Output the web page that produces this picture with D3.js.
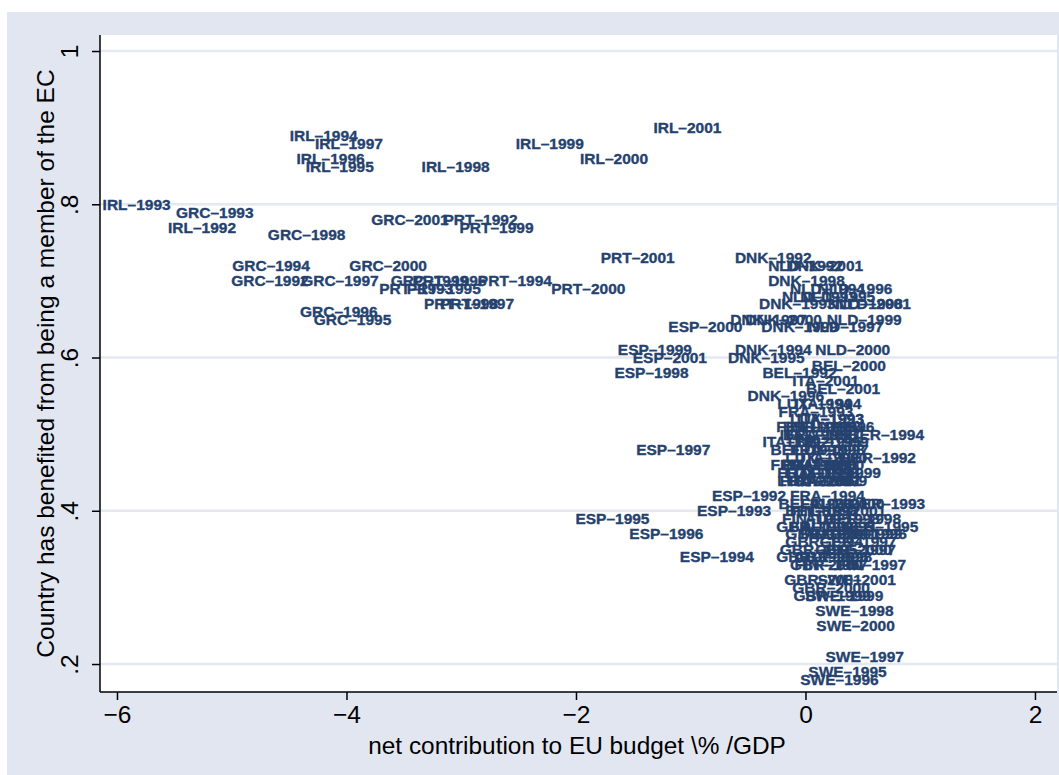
<!DOCTYPE html>
<html>
<head>
<meta charset="utf-8">
<script src="https://cdn.jsdelivr.net/npm/d3@7"></script>
<style>
  html, body { margin: 0; padding: 0; background: #ffffff; }
  svg { display: block; }
</style>
</head>
<body>
<svg id="chart" width="1059" height="775"></svg>
<script>
// Net contribution to the EU budget (% of GDP) against the share of
// respondents who say their country has benefited from membership.
// Each row: [year, net contribution, share benefited]
const IRL = [[1992,-5.59,0.77],[1993,-6.16,0.80],[1994,-4.53,0.89],[1995,-4.39,0.85],[1996,-4.47,0.86],
             [1997,-4.31,0.88],[1998,-3.38,0.85],[1999,-2.56,0.88],[2000,-2.00,0.86],[2001,-1.36,0.90]];
const GRC = [[1992,-5.04,0.70],[1993,-5.52,0.79],[1994,-5.03,0.72],[1995,-4.32,0.65],[1996,-4.44,0.66],
             [1997,-4.43,0.70],[1998,-4.72,0.76],[1999,-3.65,0.70],[2000,-4.01,0.72],[2001,-3.82,0.78]];
const PRT = [[1992,-3.19,0.78],[1993,-3.75,0.69],[1994,-2.89,0.70],[1995,-3.51,0.69],[1996,-3.46,0.70],
             [1997,-3.22,0.67],[1998,-3.36,0.67],[1999,-3.05,0.77],[2000,-2.25,0.69],[2001,-1.82,0.73]];
const ESP = [[1992,-0.85,0.42],[1993,-0.98,0.40],[1994,-1.13,0.34],[1995,-2.04,0.39],[1996,-1.57,0.37],
             [1997,-1.51,0.48],[1998,-1.70,0.58],[1999,-1.67,0.61],[2000,-1.23,0.64],[2001,-1.54,0.60]];
const DNK = [[1992,-0.65,0.73],[1993,-0.44,0.67],[1994,-0.65,0.61],[1995,-0.71,0.60],[1996,-0.54,0.55],
             [1997,-0.69,0.65],[1998,-0.36,0.70],[1999,-0.42,0.64],[2000,-0.56,0.65],[2001,-0.20,0.72]];
const NLD = [[1992,-0.36,0.72],[1993,-0.24,0.68],[1994,-0.17,0.69],[1995,-0.08,0.68],[1996,0.07,0.69],
             [1997,-0.01,0.64],[1998,0.16,0.67],[1999,0.15,0.65],[2000,0.05,0.61],[2001,0.23,0.67]];
const BEL = [[1992,-0.41,0.58],[1993,-0.34,0.48],[1994,-0.17,0.51],[1995,-0.23,0.51],[1996,-0.27,0.41],
             [1997,-0.21,0.40],[1998,-0.23,0.50],[1999,-0.13,0.49],[2000,0.02,0.59],[2001,-0.03,0.56]];
const ITA = [[1992,-0.41,0.49],[1993,-0.11,0.52],[1994,-0.13,0.54],[1995,-0.26,0.50],[1996,-0.17,0.46],
             [1997,-0.14,0.44],[1998,-0.24,0.46],[1999,-0.08,0.44],[2000,-0.08,0.47],[2001,-0.15,0.57]];
const LUX = [[1992,-0.21,0.47],[1993,-0.17,0.52],[1994,-0.28,0.54],[1995,-0.19,0.49],[1996,-0.08,0.51],
             [1997,-0.13,0.48],[1998,-0.21,0.45],[1999,-0.22,0.45],[2000,-0.17,0.46],[2001,-0.28,0.44]];
const FRA = [[1992,-0.34,0.46],[1993,-0.27,0.53],[1994,-0.17,0.42],[1995,-0.26,0.44],[1996,-0.29,0.51],
             [1997,-0.21,0.50],[1998,-0.17,0.48],[1999,-0.28,0.45],[2000,-0.24,0.46],[2001,-0.20,0.44]];
const GER = [[1992,0.26,0.47],[1993,0.34,0.41],[1994,0.33,0.50],[1995,0.28,0.38],[1996,0.18,0.37],
             [1997,0.09,0.36],[1998,0.13,0.39],[1999,0.14,0.37],[2000,0.05,0.35],[2001,0.00,0.40]];
const GBR = [[1992,-0.29,0.38],[1993,-0.21,0.37],[1994,-0.21,0.36],[1995,-0.26,0.35],[1996,-0.29,0.34],
             [1997,-0.17,0.33],[1998,-0.13,0.34],[1999,-0.14,0.29],[2000,-0.15,0.30],[2001,-0.22,0.31]];
const AUT = [[1995,-0.08,0.38],[1996,-0.14,0.34],[1997,0.10,0.35],[1998,-0.04,0.39],[1999,-0.03,0.45],
             [2000,0.00,0.41],[2001,-0.04,0.37]];
const FIN = [[1995,-0.24,0.39],[1996,-0.17,0.38],[1997,0.25,0.33],[1998,-0.17,0.40],[1999,-0.08,0.37],
             [2000,-0.13,0.33],[2001,-0.08,0.41]];
const SWE = [[1995,-0.01,0.19],[1996,-0.08,0.18],[1997,0.14,0.21],[1998,0.05,0.27],[1999,-0.04,0.29],
             [2000,0.06,0.25],[2001,0.07,0.31]];

const countryCodes = ["BEL","DNK","GER","GRC","ESP","FRA","IRL","ITA","LUX","NLD","PRT","GBR","AUT","FIN","SWE"];
const countryRows  = [BEL, DNK, GER, GRC, ESP, FRA, IRL, ITA, LUX, NLD, PRT, GBR, AUT, FIN, SWE];

const xTicks = [-6, -4, -2, 0, 2];
const yTicks = [0.2, 0.4, 0.6, 0.8, 1];
const xTitle = "net contribution to EU budget \\% /GDP";
const yTitle = "Country has benefited from being a member of the EC";

const points = [];
countryCodes.forEach((code, i) => {
  countryRows[i].forEach(([year, contrib, benefit]) => {
    points.push({ label: code + "\u2013" + year, x: contrib, y: benefit });
  });
});

const W = 1059, H = 775;
const bgColor = "#e1e6f0";
const gridColor = "#e3e8f1";
const labelColor = "#25426f";
const fontFamily = "'Liberation Sans', Arial, Helvetica, sans-serif";

const svg = d3.select("#chart");

// outer graph region
svg.append("rect").attr("x", 7).attr("y", 12).attr("width", W - 7).attr("height", H - 12)
   .attr("fill", bgColor);

const plot = { left: 100, right: 1057, top: 35, bottom: 692 };

// plot region
svg.append("rect").attr("x", plot.left).attr("y", plot.top)
   .attr("width", plot.right - plot.left).attr("height", plot.bottom - plot.top)
   .attr("fill", "#ffffff");

const x = d3.scaleLinear().domain([-6.148, 2.192]).range([plot.left, plot.right]);
const y = d3.scaleLinear().domain([0.1635, 1.0209]).range([plot.bottom, plot.top]);

// horizontal grid lines
svg.append("g").selectAll("line").data(yTicks).join("line")
   .attr("x1", plot.left).attr("x2", plot.right)
   .attr("y1", d => y(d)).attr("y2", d => y(d))
   .attr("stroke", gridColor).attr("stroke-width", 2.5);

// marker labels (no symbols), placed at 3 o'clock
svg.append("g").selectAll("text").data(points).join("text")
   .attr("x", d => x(d.x) + 4)
   .attr("y", d => y(d.y))
   .attr("dy", "0.36em")
   .attr("fill", labelColor)
   .attr("stroke", labelColor)
   .attr("stroke-width", 0.35)
   .attr("font-family", fontFamily)
   .attr("font-weight", "bold")
   .attr("font-size", "15.5px")
   .text(d => d.label);

// x axis
const xAxis = d3.axisBottom(x).tickValues(xTicks).tickSize(8).tickPadding(6)
   .tickFormat(v => (v < 0 ? "\u2212" : "") + Math.abs(v));
const gx = svg.append("g").attr("transform", `translate(0,${plot.bottom})`).call(xAxis);
gx.select(".domain").attr("d", `M${plot.left},0H${plot.right}`).attr("stroke", "#000").attr("stroke-width", 1.5);
gx.selectAll(".tick line").attr("stroke", "#000").attr("stroke-width", 1.5);
gx.selectAll(".tick text").attr("font-family", fontFamily).attr("font-size", "24.5px").attr("fill", "#000");

// y axis
const yAxis = d3.axisLeft(y).tickValues(yTicks).tickSize(8).tickPadding(6)
   .tickFormat(v => v === 1 ? "1" : d3.format(".1f")(v).replace(/^0/, ""));
const gy = svg.append("g").attr("transform", `translate(${plot.left},0)`).call(yAxis);
gy.select(".domain").attr("d", `M0,${plot.bottom}V${plot.top}`).attr("stroke", "#000").attr("stroke-width", 1.5);
gy.selectAll(".tick line").attr("stroke", "#000").attr("stroke-width", 1.5);
gy.selectAll(".tick text")
   .attr("font-family", fontFamily).attr("font-size", "24.5px").attr("fill", "#000")
   .attr("x", null).attr("dy", null)
   .attr("text-anchor", "middle")
   .attr("transform", "translate(-22,0) rotate(-90)");

// axis titles
svg.append("text").attr("x", 577).attr("y", 754)
   .attr("text-anchor", "middle").attr("font-family", fontFamily).attr("font-size", "24.4px")
   .attr("fill", "#000").text(xTitle);

svg.append("text").attr("transform", `translate(54,${(plot.top + plot.bottom) / 2}) rotate(-90)`)
   .attr("text-anchor", "middle").attr("font-family", fontFamily).attr("font-size", "24.5px")
   .attr("fill", "#000").text(yTitle);
</script>
</body>
</html>
